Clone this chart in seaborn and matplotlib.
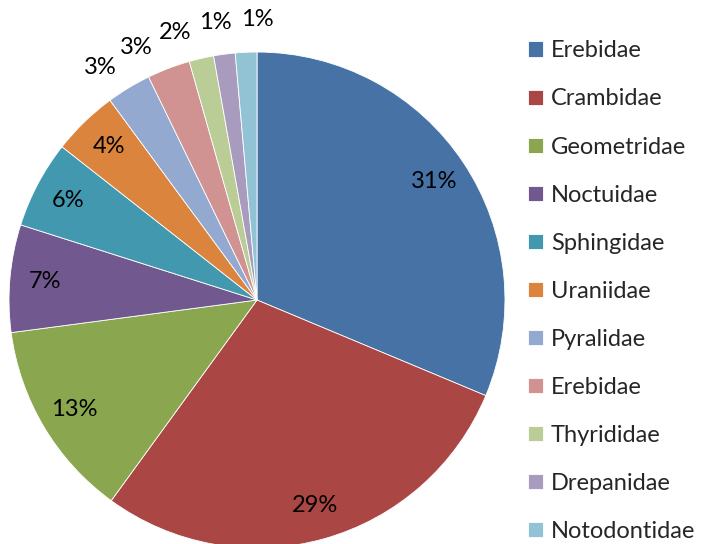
import numpy as np
import matplotlib
matplotlib.use("Agg")
import matplotlib.pyplot as plt
import seaborn as sns

# Family names and share of records (percent)
families = ['Erebidae', 'Crambidae', 'Geometridae', 'Noctuidae', 'Sphingidae',
            'Uraniidae', 'Pyralidae', 'Erebidae', 'Thyrididae', 'Drepanidae',
            'Notodontidae']
shares = [31.3, 28.7, 12.9, 7.0, 5.7, 4.3, 2.9, 2.8, 1.6, 1.4, 1.4]
slice_colors = ['#4672A6', '#AA4644', '#8AA64E', '#71588F', '#4198AF',
                '#DB843D', '#94A9CF', '#D09392', '#BACD96', '#A99BBD',
                '#92C3D4']

sns.set_theme(style='white')
plt.rcParams['font.family'] = ['Lato', 'DejaVu Sans']
FS = 17

fig = plt.figure(figsize=(7.04, 5.44), dpi=100)
ax = fig.add_axes([0.0128, -0.0074, 0.7045, 0.9118])

palette = sns.color_palette(slice_colors)
wedges, _, pct_texts = ax.pie(shares, colors=palette, startangle=90, counterclock=False,
                              autopct='%.0f%%', pctdistance=0.86,
                              wedgeprops=dict(linewidth=0.6, edgecolor='white'),
                              textprops=dict(fontsize=FS, color='black'))
ax.set_xlim(-1, 1)
ax.set_ylim(-1, 1)

# small slices get their labels outside the pie, spread apart so they don't collide
outside = [i for i, s in enumerate(shares) if s < 4]
angs = [(wedges[i].theta1 + wedges[i].theta2) / 2 for i in outside]
min_gap = 8.5
for _ in range(200):
    for k in range(len(angs) - 1):
        gap = angs[k] - angs[k + 1]
        if gap < min_gap:
            push = (min_gap - gap) / 2
            angs[k] += push
            angs[k + 1] -= push
for i, a in zip(outside, angs):
    a = np.deg2rad(a + 2)
    pct_texts[i].set_position((1.13 * np.cos(a), 1.13 * np.sin(a)))

fig.legend(wedges, families, loc='upper left', bbox_to_anchor=(0.737, 0.943),
           frameon=False, fontsize=FS, handlelength=0.62, handleheight=0.62,
           handletextpad=0.33, labelspacing=1.145, borderaxespad=0)

fig.savefig('out.png', dpi=100)
